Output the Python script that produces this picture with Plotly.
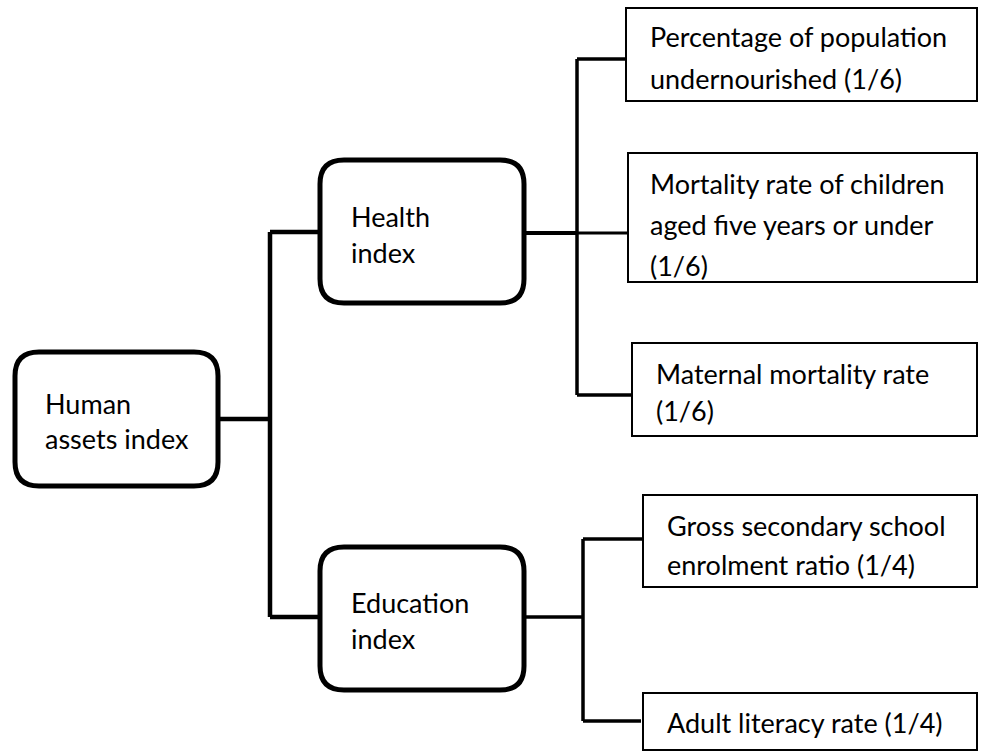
import plotly.graph_objects as go

# ---- content ----
root_label = ["Human", "assets index"]
mid_labels = [["Health", "index"], ["Education", "index"]]
leaf_labels = [
    ["Percentage of population", "undernourished (1/6)"],
    ["Mortality rate of children", "aged five years or under", "(1/6)"],
    ["Maternal mortality rate", "(1/6)"],
    ["Gross secondary school", "enrolment ratio (1/4)"],
    ["Adult literacy rate (1/4)"],
]

# ---- layout geometry (pixels, y downward) ----
W, H = 981, 751
root_box = dict(x0=15, y0=352, x1=218, y1=486, tx=43, ty=[403, 438])
mid_boxes = [
    dict(x0=320, y0=160, x1=524, y1=303, tx=349, ty=[216, 252]),
    dict(x0=320, y0=547, x1=524, y1=690, tx=349, ty=[602, 638]),
]
leaf_boxes = [
    dict(x0=626, y0=8, x1=977, y1=101, tx=648, ty=[36, 78]),
    dict(x0=628, y0=153, x1=977, y1=282, tx=648, ty=[183, 224, 265]),
    dict(x0=632, y0=343, x1=977, y1=436, tx=654, ty=[373, 410]),
    dict(x0=643, y0=495, x1=977, y1=587, tx=665, ty=[525, 564]),
    dict(x0=643, y0=693, x1=977, y1=750, tx=665, ty=[722]),
]
# connector polylines: (points, width)
connectors = [
    ([(218, 419), (270, 419)], 4.5),
    ([(270, 232), (270, 617)], 4.5),
    ([(270, 232), (320, 232)], 4.5),
    ([(270, 617), (320, 617)], 4.5),
    ([(524, 233), (577, 233)], 4),
    ([(577, 233), (627, 233)], 3),
    ([(577, 59), (577, 395)], 3.5),
    ([(577, 59), (626, 59)], 3.5),
    ([(577, 395), (632, 395)], 3.5),
    ([(524, 617), (583, 617)], 3.5),
    ([(583, 539), (583, 721)], 3.5),
    ([(583, 539), (643, 539)], 3.5),
    ([(583, 721), (641, 721)], 3.5),
]

FONT = "Lato"
FS = 27


def rounded(b, r):
    x0, y0, x1, y1 = b["x0"], b["y0"], b["x1"], b["y1"]
    return (f"M {x0+r},{y0} L {x1-r},{y0} Q {x1},{y0} {x1},{y0+r} "
            f"L {x1},{y1-r} Q {x1},{y1} {x1-r},{y1} L {x0+r},{y1} "
            f"Q {x0},{y1} {x0},{y1-r} L {x0},{y0+r} Q {x0},{y0} {x0+r},{y0} Z")


fig = go.Figure()
shapes = []
annotations = []

for pts, w in connectors:
    fig.add_trace(go.Scatter(
        x=[p[0] for p in pts], y=[p[1] for p in pts], mode="lines",
        line=dict(color="black", width=w), hoverinfo="skip", showlegend=False))

for b in [root_box] + mid_boxes:
    shapes.append(dict(type="path", path=rounded(b, 24), xref="x", yref="y",
                       line=dict(color="black", width=5), fillcolor="white",
                       layer="above"))
for b in leaf_boxes:
    shapes.append(dict(type="rect", x0=b["x0"], y0=b["y0"], x1=b["x1"], y1=b["y1"],
                       xref="x", yref="y", line=dict(color="black", width=2),
                       fillcolor="white", layer="above"))


def add_text(b, lines):
    for t, y in zip(lines, b["ty"]):
        annotations.append(dict(x=b["tx"], y=y, xref="x", yref="y", text=t,
                                showarrow=False, xanchor="left", yanchor="middle",
                                font=dict(family=FONT, size=FS, color="black")))


add_text(root_box, root_label)
for b, l in zip(mid_boxes, mid_labels):
    add_text(b, l)
for b, l in zip(leaf_boxes, leaf_labels):
    add_text(b, l)

fig.update_layout(
    width=W, height=H, margin=dict(l=0, r=0, t=0, b=0),
    paper_bgcolor="white", plot_bgcolor="white",
    xaxis=dict(range=[0, W], visible=False, fixedrange=True),
    yaxis=dict(range=[H, 0], visible=False, fixedrange=True),
    shapes=shapes, annotations=annotations,
)
fig.write_html(
    "out.html",
    config=dict(displayModeBar=False),
    post_script="document.body.style.margin='0';document.body.style.overflow='hidden';",
)
